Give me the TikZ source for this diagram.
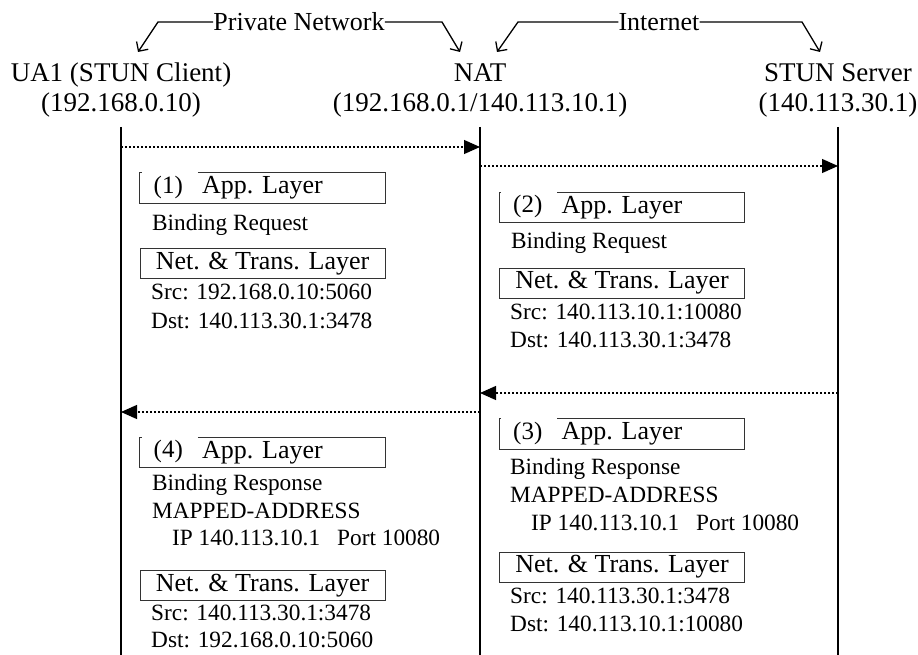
\documentclass[tikz,border=0pt]{standalone}
\usepackage{fontspec}
\setmainfont{Liberation Serif}
\usetikzlibrary{arrows.meta}

% App. Layer box with its step number set into the top-left corner
\newcommand\applayer[3]{%
  \node[appbox] (#1) at (#2) {App. Layer};
  \draw[boxline] ([xshift=58pt]#1.north west) -- (#1.north east) -- (#1.south east)
    -- (#1.south west) -- (#1.north west) -- ++(2pt,0);
  \node[num] (#1n) at ([xshift=28.5pt,yshift=10pt]#1.south west) {(#3)};
}

\begin{document}
\begin{tikzpicture}[x=1pt,y=-1pt,
  hdr/.style={font=\fontsize{27}{30}\selectfont, inner sep=0pt, anchor=base},
  zone/.style={font=\fontsize{26}{28}\selectfont, inner sep=0pt},
  txt/.style={font=\fontsize{23.3}{28}\selectfont, inner sep=0pt, anchor=base west},
  num/.style={font=\fontsize{25}{28}\selectfont, inner sep=0pt, anchor=base},
  boxline/.style={draw=black!80, line width=1pt},
  appbox/.style={minimum width=245pt, minimum height=30pt, inner sep=0pt,
    font=\fontsize{26}{28}\selectfont},
  layerbox/.style={appbox, boxline},
  lifeline/.style={line width=2pt},
  msg/.style={line width=1.2pt, dash pattern=on 2pt off 2pt,
    -{Triangle[length=16pt,width=14pt]}},
  brace/.style={line width=1.3pt, -{Straight Barb[length=7pt,width=14pt]}}
]
\useasboundingbox (0,0) rectangle (918,655);

% entity headers
\node[hdr] (ua)    at (121,82)  {UA1 (STUN Client)};
\node[hdr] (uaip)  at (121,112) {(192.168.0.10)};
\node[hdr] (nat)   at (480,82)  {NAT};
\node[hdr] (natip) at (480,112) {(192.168.0.1/140.113.10.1)};
\node[hdr] (srv)   at (838,82)  {STUN Server};
\node[hdr] (srvip) at (838,112) {(140.113.30.1)};

% network zones
\node[zone] (pn)   at (299,22) {Private Network};
\node[zone] (inet) at (659,22) {Internet};
\coordinate (pnL) at (158,22);  \coordinate (pnLt) at (138,52);
\coordinate (pnR) at (442,22);  \coordinate (pnRt) at (460,52);
\coordinate (inL) at (518,22);  \coordinate (inLt) at (497,52);
\coordinate (inR) at (802,22);  \coordinate (inRt) at (820,52);
\draw[brace] (pn.west) -- (pnL) -- (pnLt);
\draw[brace] (pn.east) -- (pnR) -- (pnRt);
\draw[brace] (inet.west) -- (inL) -- (inLt);
\draw[brace] (inet.east) -- (inR) -- (inRt);

% lifelines
\coordinate (uaT)  at (121,127); \coordinate (uaB)  at (121,655);
\coordinate (natT) at (480,127); \coordinate (natB) at (480,655);
\coordinate (srvT) at (838,127); \coordinate (srvB) at (838,655);
\draw[lifeline] (uaT) -- (uaB);
\draw[lifeline] (natT) -- (natB);
\draw[lifeline] (srvT) -- (srvB);

% messages
\draw[msg] (uaT |- 0,147) -- (natT |- 0,147);
\draw[msg] (natT |- 0,166) -- (srvT |- 0,166);
\draw[msg] (srvT |- 0,393) -- (natT |- 0,393);
\draw[msg] (natT |- 0,412) -- (uaT |- 0,412);

% (1) request leaving UA1
\applayer{app1}{262.5,188}{1}
\node[txt] (req1) at (152,230) {Binding Request};
\node[layerbox] (net1) at (262.5,263.5) {Net. \& Trans. Layer};
\node[txt] (src1) at (151,299) {Src: 192.168.0.10:5060};
\node[txt] (dst1) at (151,328) {Dst: 140.113.30.1:3478};

% (2) request after NAT
\applayer{app2}{622,207.5}{2}
\node[txt] (req2) at (511,248) {Binding Request};
\node[layerbox] (net2) at (622,283) {Net. \& Trans. Layer};
\node[txt] (src2) at (510,319) {Src: 140.113.10.1:10080};
\node[txt] (dst2) at (510,347) {Dst: 140.113.30.1:3478};

% (3) response from the server
\applayer{app3}{622,434}{3}
\node[txt] (rsp3) at (510,474) {Binding Response};
\node[txt] (map3) at (510,502) {MAPPED-ADDRESS};
\node[txt] (ip3)  at (531,530) {IP 140.113.10.1\hspace{17pt}Port 10080};
\node[layerbox] (net3) at (622,567) {Net. \& Trans. Layer};
\node[txt] (src3) at (510,603) {Src: 140.113.30.1:3478};
\node[txt] (dst3) at (510,631) {Dst: 140.113.10.1:10080};

% (4) response forwarded to UA1
\applayer{app4}{262.5,452.5}{4}
\node[txt] (rsp4) at (152,490) {Binding Response};
\node[txt] (map4) at (152,518) {MAPPED-ADDRESS};
\node[txt] (ip4)  at (172,545) {IP 140.113.10.1\hspace{17pt}Port 10080};
\node[layerbox] (net4) at (262.5,585.5) {Net. \& Trans. Layer};
\node[txt] (src4) at (151,620) {Src: 140.113.30.1:3478};
\node[txt] (dst4) at (151,647) {Dst: 192.168.0.10:5060};
\end{tikzpicture}
\end{document}
